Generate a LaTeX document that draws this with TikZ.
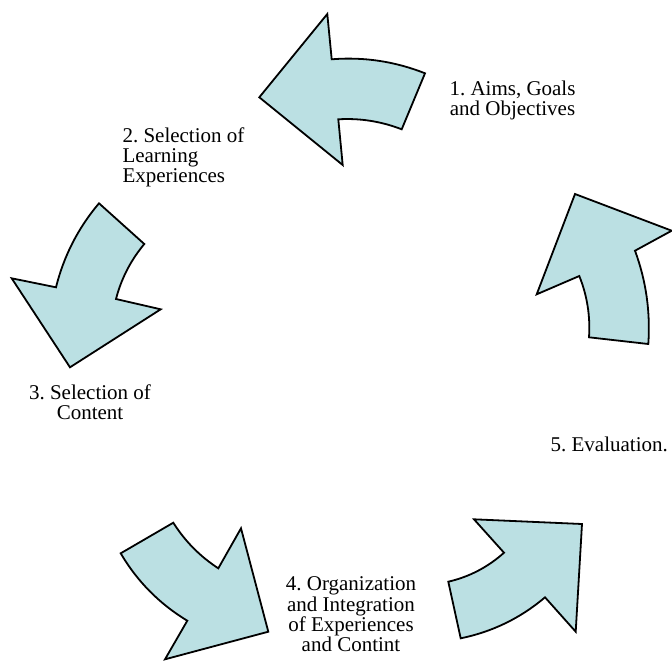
\documentclass[tikz,border=0pt]{standalone}
\usepackage{fontspec}
\setmainfont{Liberation Serif}
\usepackage{tikz}
\usetikzlibrary{positioning}
\definecolor{paleblue}{RGB}{187,224,227}
\frenchspacing

\begin{document}
\begin{tikzpicture}[x=1pt, y=-1pt,
    bluearrow/.style={draw=black, fill=paleblue, line width=1.8pt, line join=miter},
    steplabel/.style={inner sep=0pt, font=\fontsize{21}{20.2}\selectfont}]
    \useasboundingbox (0, 0) rectangle (672, 665);

    % labels of the five stages
    \node[steplabel, align=center, anchor=north] (aims) at (512.5, 81) {1. Aims, Goals\\and Objectives};
    \node[steplabel, align=left, anchor=north west] (learning) at (122.3, 127.5) {2. Selection of\\Learning\\Experiences};
    \node[steplabel, align=center, anchor=north] (content) at (90, 384.3) {3. Selection of\\Content};
    \node[steplabel, align=center, anchor=north] (organize) at (351, 576.7) {4. Organization\\and Integration\\of Experiences\\and Contint};
    \node[steplabel, anchor=north] (evaluate) at (609.2, 437) {5. Evaluation.};

    % curved arrows of the cycle
    \draw[bluearrow] (259.3, 97.3) -- (327.3, 14) -- (331.7, 59.3)
        .. controls (363.9, 56.7) and (395, 61.4) .. (425, 73.3) -- (401.7, 129.3)
        .. controls (381.3, 121.4) and (360.2, 118) .. (338.3, 119.3) -- (342.7, 165) -- cycle;
    \draw[bluearrow] (70, 367.3) -- (11.7, 278.3) -- (56, 287.3)
        .. controls (63.8, 256) and (78.1, 228) .. (99, 203.3) -- (144.3, 244)
        .. controls (130.8, 260.2) and (121.3, 278.5) .. (116, 299) -- (160.7, 309.3) -- cycle;
    \draw[bluearrow] (268.3, 631.7) -- (165, 659.3) -- (187.3, 620.7)
        .. controls (159.4, 603.8) and (137.2, 581.4) .. (120.7, 553.3) -- (173.3, 522.7)
        .. controls (185, 541.2) and (200, 556.4) .. (218.3, 568.3) -- (241, 528.3) -- cycle;
    \draw[bluearrow] (582, 524) -- (575.7, 631.7) -- (545, 597.3)
        .. controls (520.4, 618.2) and (492.3, 631.8) .. (460.7, 638.3) -- (448.3, 581.7)
        .. controls (469.4, 576.8) and (487.9, 567.1) .. (504, 552.7) -- (474, 519.3) -- cycle;
    \draw[bluearrow] (575, 194) -- (671.7, 230.7) -- (635, 250.7)
        .. controls (646.1, 280.8) and (650.5, 311.9) .. (648.3, 344) -- (589, 337.3)
        .. controls (590.4, 316.2) and (587.2, 295.7) .. (579.3, 276) -- (536.7, 294.3) -- cycle;
\end{tikzpicture}
\end{document}
